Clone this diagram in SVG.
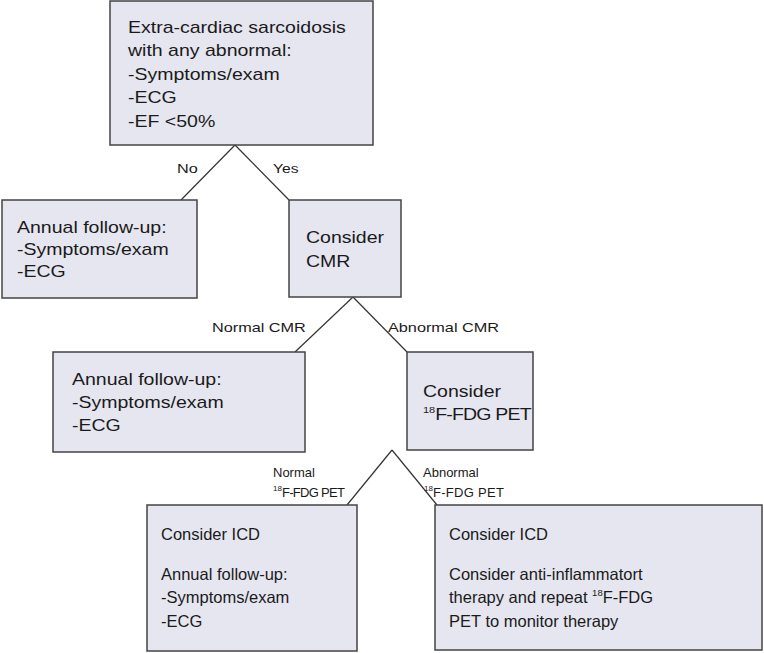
<svg xmlns="http://www.w3.org/2000/svg" width="764" height="653" viewBox="0 0 764 653">
<style>
.box{fill:#E6E6F0;stroke:#444;stroke-width:1.5}
.con line{stroke:#333;stroke-width:1.2}
text{font-family:"Liberation Sans",Arial,Helvetica,sans-serif;fill:#1a1a1a}
.w{font-size:16px}
.b{font-size:16.5px}
.l{font-size:13px}
.s{font-size:13px}
.sup{font-size:9px}
.sup2{font-size:9.5px}
.sup3{font-size:8px}
</style>
<rect width="764" height="653" fill="#ffffff"/>
<g id="connectors" class="con">
<line x1="235" y1="145" x2="181" y2="200"/>
<line x1="235" y1="145" x2="289" y2="200"/>
<line x1="353" y1="297" x2="295" y2="352"/>
<line x1="353" y1="297" x2="407" y2="352"/>
<line x1="392" y1="450" x2="347" y2="505"/>
<line x1="392" y1="450" x2="437" y2="505"/>
<text class="l" transform="translate(177,173) scale(1.25,1)">No</text>
<text class="l" transform="translate(273,173) scale(1.2,1)">Yes</text>
<text class="l" transform="translate(212,332) scale(1.25,1)">Normal CMR</text>
<text class="l" transform="translate(388,332) scale(1.25,1)">Abnormal CMR</text>
<text class="s" x="273" y="477">Normal</text>
<text class="s" x="273" y="497"><tspan class="sup3" dy="-6">18</tspan><tspan dy="6" textLength="63">F-FDG PET</tspan></text>
<text class="s" x="423" y="477">Abnormal</text>
<text class="s" x="424" y="497"><tspan class="sup3" dy="-6">18</tspan><tspan dy="6" textLength="71">F-FDG PET</tspan></text>
</g>
<g id="start">
<rect class="box" x="110" y="1" width="263" height="144"/>
<text class="w" transform="translate(128,33) scale(1.22,1)"><tspan x="0" y="0">Extra-cardiac sarcoidosis</tspan><tspan x="0" y="23.5">with any abnormal:</tspan><tspan x="0" y="47">-Symptoms/exam</tspan><tspan x="0" y="70.5">-ECG</tspan><tspan x="0" y="94">-EF &lt;50%</tspan></text>
</g>
<g id="no-followup">
<rect class="box" x="2" y="200" width="195" height="98"/>
<text class="w" transform="translate(17,233) scale(1.22,1)"><tspan x="0" y="0">Annual follow-up:</tspan><tspan x="0" y="22">-Symptoms/exam</tspan><tspan x="0" y="44">-ECG</tspan></text>
</g>
<g id="consider-cmr">
<rect class="box" x="289" y="200" width="112" height="97"/>
<text class="w" transform="translate(306,243) scale(1.22,1)"><tspan x="0" y="0">Consider</tspan><tspan x="0" y="24">CMR</tspan></text>
</g>
<g id="normal-cmr-followup">
<rect class="box" x="53" y="352" width="252" height="100"/>
<text class="w" transform="translate(72,385) scale(1.22,1)"><tspan x="0" y="0">Annual follow-up:</tspan><tspan x="0" y="23">-Symptoms/exam</tspan><tspan x="0" y="46">-ECG</tspan></text>
</g>
<g id="consider-pet">
<rect class="box" x="407" y="352" width="126" height="98"/>
<text class="w" transform="translate(423,397) scale(1.22,1)"><tspan x="0" y="0">Consider</tspan><tspan x="0" y="16" class="sup">18</tspan><tspan y="23" textLength="79">F-FDG PET</tspan></text>
</g>
<g id="normal-pet">
<rect class="box" x="147" y="505" width="210" height="146"/>
<text class="b"><tspan x="161" y="540">Consider ICD</tspan><tspan x="161" y="580">Annual follow-up:</tspan><tspan x="161" y="603">-Symptoms/exam</tspan><tspan x="161" y="627">-ECG</tspan></text>
</g>
<g id="abnormal-pet">
<rect class="box" x="435" y="505" width="327" height="145"/>
<text class="b"><tspan x="449" y="540">Consider ICD</tspan><tspan x="449" y="580">Consider anti-inflammatort</tspan><tspan x="449" y="603">therapy and repeat </tspan><tspan class="sup2" y="596">18</tspan><tspan y="603">F-FDG</tspan><tspan x="449" y="627">PET to monitor therapy</tspan></text>
</g>
</svg>
